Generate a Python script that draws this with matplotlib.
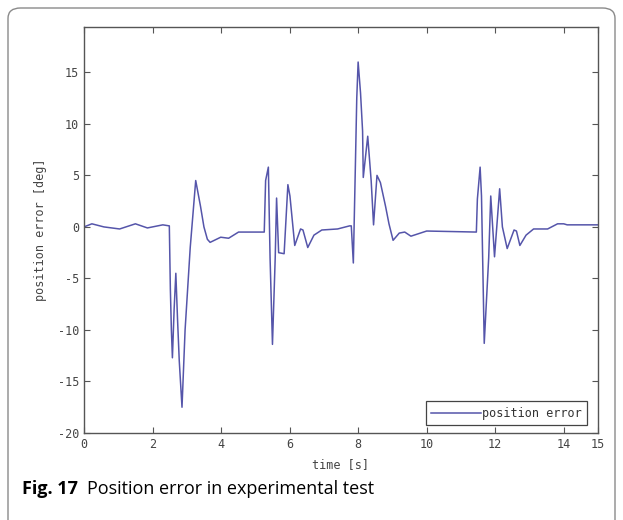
import matplotlib.pyplot as plt
from matplotlib.patches import FancyBboxPatch

# values (time in s, error in deg)
time_s = [0.0, 0.23, 0.58, 1.04, 1.5, 1.85, 2.3, 2.49, 2.52, 2.55, 2.58, 2.63, 2.68, 2.73,
          2.78, 2.86, 2.95, 3.1, 3.26, 3.4, 3.5, 3.6, 3.68, 3.99, 4.22, 4.51, 5.26,
          5.3, 5.38, 5.43, 5.5, 5.58, 5.62, 5.68, 5.84, 5.95, 6.01, 6.15, 6.32, 6.39, 6.53,
          6.71, 6.94, 7.4, 7.75, 7.8, 7.86, 7.92, 7.96, 8.0, 8.07, 8.13, 8.15, 8.28, 8.38,
          8.45, 8.55, 8.65, 8.8, 8.9, 9.02, 9.2, 9.36, 9.54, 10.0, 11.45,
          11.48, 11.56, 11.6, 11.68, 11.81, 11.87, 11.98, 12.13, 12.21, 12.35, 12.55, 12.62,
          12.72, 12.9, 13.12, 13.53, 13.82, 14.0, 14.1, 15.0]
pos_err = [0.0, 0.3, 0.0, -0.2, 0.3, -0.1, 0.2, 0.1, -6.0, -10.0, -12.7, -8.0, -4.5, -9.0,
           -13.0, -17.5, -10.0, -2.0, 4.5, 2.0, 0.0, -1.2, -1.5, -1.0, -1.1, -0.5, -0.5,
           4.5, 5.8, -3.0, -11.4, -3.0, 2.8, -2.5, -2.6, 4.1, 3.0, -1.8, -0.2, -0.3, -2.0,
           -0.8, -0.3, -0.2, 0.1, 0.1, -3.5, 6.0, 12.5, 16.0, 13.0, 9.3, 4.8, 8.8, 4.5,
           0.2, 5.0, 4.3, 2.0, 0.3, -1.3, -0.6, -0.5, -0.9, -0.4, -0.5,
           2.7, 5.8, 3.0, -11.3, -3.0, 3.0, -2.9, 3.7, 0.0, -2.1, -0.3, -0.4,
           -1.8, -0.8, -0.2, -0.2, 0.3, 0.3, 0.2, 0.2]

x_ticks = [0, 2, 4, 6, 8, 10, 12, 14, 15]
y_ticks = [-20, -15, -10, -5, 0, 5, 10, 15]

fig = plt.figure(figsize=(6.23, 5.2), dpi=100)

# rounded frame round the figure panel
frame = FancyBboxPatch((8 / 623, -0.05), 607 / 623, 1.05 - 8 / 520,
                       boxstyle="round,pad=0,rounding_size=0.02",
                       transform=fig.transFigure, fill=False,
                       edgecolor='#8a8a8a', linewidth=1.0)
fig.patches.append(frame)

ax = fig.add_axes([84 / 623, 1 - 433 / 520, 514 / 623, 406 / 520])
ax.plot(time_s, pos_err, color='#5555aa', linewidth=1.1, label='position error')

ax.set_xlim(0, 15)
ax.set_ylim(-20, 19.4)
ax.set_xticks(x_ticks)
ax.set_yticks(y_ticks)

mono = 'DejaVu Sans Mono'
ax.set_xticklabels([str(t) for t in x_ticks], family=mono, fontsize=8.5, color='#444444')
ax.set_yticklabels([str(t) for t in y_ticks], family=mono, fontsize=8.5, color='#444444')
ax.tick_params(direction='in', length=4, top=True, right=True, color='#555555', width=0.8)
for s in ax.spines.values():
    s.set_color('#555555')
    s.set_linewidth(1.0)

ax.set_xlabel('time [s]', family=mono, fontsize=8.5, color='#444444', labelpad=5)
ax.set_ylabel('position error [deg]', family=mono, fontsize=8.5, color='#444444', labelpad=8)

leg = ax.legend(loc='lower right', bbox_to_anchor=(0.99, 0.005), prop={'family': mono, 'size': 8.5},
                fancybox=False, framealpha=1, edgecolor='#444444', handlelength=4.2,
                handletextpad=0.1, borderpad=0.45)
leg.get_frame().set_linewidth(0.9)
for t in leg.get_texts():
    t.set_color('#333333')

fig.text(22 / 623, 1 - 489 / 520, 'Fig. 17', fontsize=13, fontweight='bold',
         family='Open Sans', va='center', ha='left')
fig.text(87 / 623, 1 - 489 / 520, 'Position error in experimental test', fontsize=13,
         family='Open Sans', va='center', ha='left')

fig.savefig('out.png', dpi=100)
